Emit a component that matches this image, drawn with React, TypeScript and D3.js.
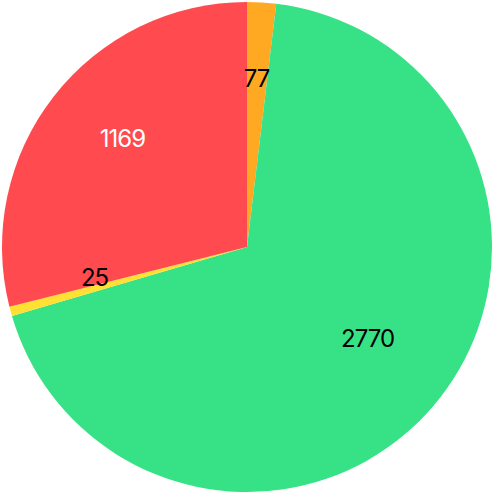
import React, { useEffect, useRef } from 'react';
import * as d3 from 'd3';

// slice values, clockwise from 12 o'clock
const labels = ['A', 'B', 'C', 'D'];
const values = [77, 2770, 25, 1169];
const colors = ['#ffa822', '#37e286', '#ffe033', '#ff4b4f'];
const textColors = ['#000000', '#000000', '#000000', '#ffffff'];

const App = () => {
    const svgRef = useRef(null);

    const width = 494;
    const height = 494;
    const radius = 245;

    useEffect(() => {
        const svg = d3.select(svgRef.current);
        svg.selectAll('*').remove();

        const g = svg.append('g')
            .attr('transform', `translate(${width / 2},${height / 2})`);

        const pie = d3.pie<number>().sort(null).value(d => d);
        const arcs = pie(values);

        const arc = d3.arc<d3.PieArcDatum<number>>()
            .innerRadius(0)
            .outerRadius(radius);

        const labelArc = d3.arc<d3.PieArcDatum<number>>()
            .innerRadius(158)
            .outerRadius(158);

        g.selectAll('path')
            .data(arcs)
            .enter()
            .append('path')
            .attr('d', arc)
            .attr('fill', (d, i) => colors[i]);

        // labels sit a bit above the centroid
        g.selectAll('text')
            .data(arcs)
            .enter()
            .append('text')
            .attr('transform', d => `translate(${labelArc.centroid(d)})`)
            .attr('dy', -11)
            .attr('text-anchor', 'middle')
            .attr('dominant-baseline', 'central')
            .attr('font-family', 'Inter, sans-serif')
            .attr('font-size', '24px')
            .attr('letter-spacing', '-1px')
            .attr('fill', (d, i) => textColors[i])
            .text(d => String(d.data));
    }, []);

    return (
        <svg
            ref={svgRef}
            width={width}
            height={height}
            style={{ position: 'absolute', left: 0, top: 0 }}
        />
    );
};

export default App;
